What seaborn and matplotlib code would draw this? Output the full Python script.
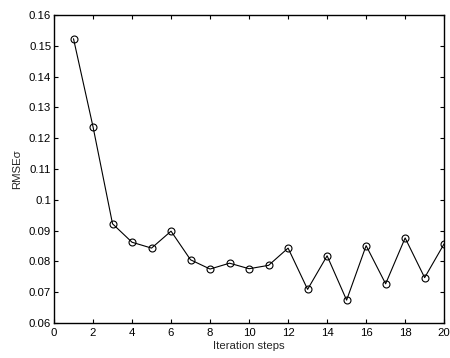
import matplotlib
matplotlib.use("Agg")
import matplotlib.pyplot as plt
import seaborn as sns
import pandas as pd

# Iteration steps and RMSE of sigma at each step
steps = list(range(1, 21))
rmse_sigma = [0.1523, 0.1237, 0.0922, 0.0862, 0.0843, 0.0898, 0.0805, 0.0775,
              0.0794, 0.0776, 0.0787, 0.0843, 0.0709, 0.0818, 0.0674, 0.0851,
              0.0727, 0.0876, 0.0747, 0.0857]

x_ticks = [0, 2, 4, 6, 8, 10, 12, 14, 16, 18, 20]
y_ticks = [0.06, 0.07, 0.08, 0.09, 0.1, 0.11, 0.12, 0.13, 0.14, 0.15, 0.16]
y_tick_labels = ["0.06", "0.07", "0.08", "0.09", "0.1", "0.11", "0.12",
                 "0.13", "0.14", "0.15", "0.16"]

df = pd.DataFrame({"step": steps, "rmse": rmse_sigma})

sns.set_style("ticks")
plt.rcParams["font.family"] = ["Liberation Sans", "DejaVu Sans"]

fig = plt.figure(figsize=(4.5, 3.58), dpi=100)
ax = fig.add_axes([0.12, 0.098, 0.867, 0.86])

sns.lineplot(data=df, x="step", y="rmse", ax=ax, color="black", linewidth=0.8,
             marker="o", markersize=5, markerfacecolor="none",
             markeredgecolor="black", markeredgewidth=0.8)

ax.set_xlim(0, 20)
ax.set_ylim(0.06, 0.16)
ax.set_xticks(x_ticks)
ax.set_xticklabels([str(t) for t in x_ticks])
ax.set_yticks(y_ticks)
ax.set_yticklabels(y_tick_labels)
ax.tick_params(direction="in", top=True, right=True, length=3, width=0.8,
               labelsize=8.2, colors="black")
ax.tick_params(axis="x", pad=4)
ax.tick_params(axis="y", pad=2)
for s in ax.spines.values():
    s.set_linewidth(1.0)
    s.set_color("black")

ax.set_xlabel("Iteration steps", fontsize=8.2, labelpad=1.5)
ax.set_ylabel("RMSEσ", fontsize=8.2, labelpad=5)

fig.savefig("out.png", dpi=100)
